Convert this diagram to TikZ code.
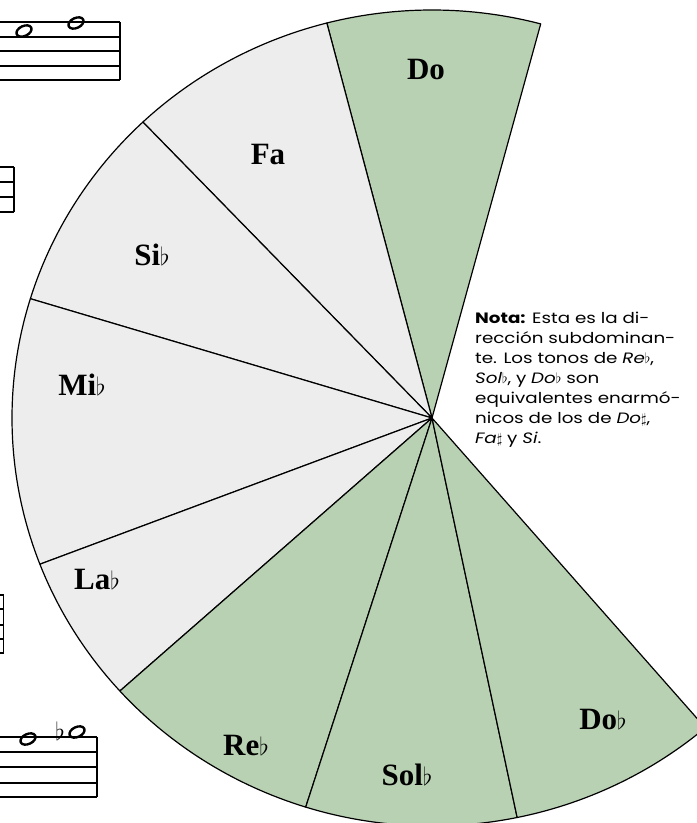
\documentclass[tikz,border=0pt]{standalone}
\usepackage{fontspec}
\newfontfamily\labfont{Liberation Serif}
\newfontfamily\notafont[FakeStretch=1.22]{Poppins}
\definecolor{sage}{RGB}{185,209,179}
\definecolor{pale}{RGB}{237,237,237}
\begin{document}
\begin{tikzpicture}[x=1pt,y=1pt,line join=round]
\useasboundingbox (0,0) rectangle (697,823);
\tikzset{
  sectorline/.style={draw=black,line width=1.2pt},
  lab/.style={font=\labfont\bfseries\fontsize{31}{34}\selectfont,inner sep=0pt},
  staffline/.style={draw=black,line width=1.1pt},
  wnote/.style={draw=black,line width=2.4pt},
  nota/.style={font=\notafont\fontsize{15}{20}\selectfont,align=left,inner sep=0pt,anchor=north west}
}
\def\rx{420}\def\ry{408}
\coordinate (C) at (432,405);
\newcommand\mysector[3]{\path[sectorline,fill=#3] (C) -- ++(#1:\rx pt and \ry pt) arc[start angle=#1,end angle=#2,x radius=\rx pt,y radius=\ry pt] -- cycle;}
\mysector{75}{104.5}{sage}
\mysector{104.5}{133.5}{pale}
\mysector{133.5}{163}{pale}
\mysector{163}{201}{pale}
\mysector{201}{222}{pale}
\mysector{222}{252.5}{sage}
\mysector{252.5}{281.7}{sage}
\mysector{281.7}{310.6}{sage}
% labels
\node[lab] (do) at (426,753) {Do};
\node[lab] (fa) at (268,668) {Fa};
\node[lab] (sib) at (152,568) {Si$\flat$};
\node[lab] (mib) at (82,438) {Mi$\flat$};
\node[lab] (lab) at (97,243) {La$\flat$};
\node[lab] (reb) at (246,78) {Re$\flat$};
\node[lab] (solb) at (407,48) {Sol$\flat$};
\node[lab] (dob) at (603,103) {Do$\flat$};
% nota
\node[nota] (nota) at (475,511) {\textbf{Nota:} Esta es la di-\\rección subdominan-\\te. Los tonos de \textit{Re$\flat$},\\\textit{Sol$\flat$}, y \textit{Do$\flat$} son\\equivalentes enarmó-\\nicos de los de \textit{Do$\sharp$},\\\textit{Fa$\sharp$} y \textit{Si}.};
% top-left staff
\foreach \y in {801,786,772,757,743} \draw[staffline] (0,\y) -- (120,\y);
\draw[staffline] (120,801) -- (120,743);
\draw[wnote,rotate around={25:(24,792)}] (24,792) ellipse (8 and 5);
\draw[wnote,rotate around={25:(76,800)}] (76,800) ellipse (8 and 5);
% left staff fragment
\foreach \y in {656,641,626,611} \draw[staffline] (0,\y) -- (14,\y);
\draw[staffline] (14,656) -- (14,611);
% second left fragment
\foreach \y in {228,214,198,184,170} \draw[staffline] (0,\y) -- (3.5,\y);
\draw[staffline] (3.5,228) -- (3.5,170);
% bottom-left staff
\foreach \y in {86,71,56,40,26} \draw[staffline] (0,\y) -- (97,\y);
\draw[staffline] (97,86) -- (97,26);
\draw[wnote,rotate around={25:(28,84)}] (28,84) ellipse (8 and 5);
\node[font=\fontsize{28}{28}\selectfont,inner sep=0pt] (flt) at (60,92) {$\flat$};
\draw[wnote,rotate around={25:(77,91)}] (77,91) ellipse (8 and 5);
\end{tikzpicture}
\end{document}
